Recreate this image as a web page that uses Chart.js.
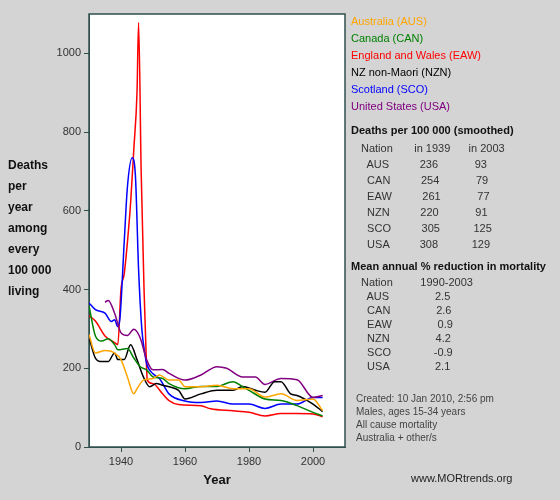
<!DOCTYPE html><html><head><meta charset="utf-8">
<script src="https://cdn.jsdelivr.net/npm/chart.js@4"></script>
<style>
body{margin:0;background:#d4d4d4;font-family:Arial,"Liberation Sans",sans-serif;}
#w{position:relative;width:560px;height:500px;}
.t{position:absolute;font-size:11px;color:#333;white-space:pre;}
.b{font-weight:bold;color:#111;}
</style></head><body><div id="w"><canvas id="c" width="560" height="500"></canvas>
<div class="t b" style="left:8px;top:155px;font-size:12px;line-height:21px">Deaths
per
year
among
every
100 000
living</div>
<div class="t" style="left:351px;top:13px;line-height:17px"><span style="color:#ffa500">Australia (AUS)</span>
<span style="color:#008000">Canada (CAN)</span>
<span style="color:#ff0000">England and Wales (EAW)</span>
<span style="color:#000">NZ non-Maori (NZN)</span>
<span style="color:#0000ff">Scotland (SCO)</span>
<span style="color:#800080">United States (USA)</span></div>
<div class="t b" style="left:351px;top:124px">Deaths per 100 000 (smoothed)</div>
<div class="t" style="left:361px;top:140px;line-height:16px">Nation       in 1939      in 2003
  AUS          236            93
  CAN          254            79
  EAW          261            77
  NZN          220            91
  SCO          305           125
  USA          308           129</div>
<div class="t b" style="left:351px;top:260px">Mean annual % reduction in mortality</div>
<div class="t" style="left:361px;top:275px;line-height:14px">Nation         1990-2003
  AUS               2.5
  CAN               2.6
  EAW               0.9
  NZN               4.2
  SCO              -0.9
  USA               2.1</div>
<div class="t" style="left:356px;top:392px;font-size:10px;line-height:13px;color:#444">Created: 10 Jan 2010, 2:56 pm
Males, ages 15-34 years
All cause mortality
Australia + other/s</div>
<div class="t" style="left:411px;top:472px;font-size:11px;color:#222">www.MORtrends.org</div>
</div>
<script>
const yAUS=[1930,1932,1935,1938,1940,1942,1944,1945,1947,1950,1952,1955,1958,1960,1965,1970,1975,1980,1985,1990,1995,2000,2003];
const vAUS=[286,239,245,239,222,178,135,148,170,174,183,170,170,153,153,157,148,148,127,135,118,122,92];
const yCAN=[1930,1932,1934,1936,1938,1939,1942,1944,1946,1948,1950,1953,1955,1960,1965,1970,1975,1978,1980,1985,1990,1995,2000,2003];
const vCAN=[359,282,269,275,260,247,250,226,204,196,178,174,161,148,154,154,166,153,144,122,118,105,88,79];
const yEAW=[1930,1932,1935,1938,1939,1940,1941,1942,1943,1944,1945,1945.5,1946.3,1947.2,1948,1948.2,1950,1953,1955,1958,1965,1968,1975,1980,1985,1990,1995,2000,2003];
const vEAW=[333,320,282,265,260,400,440,520,620,756,900,1078,700,400,200,170,161,135,118,108,105,97,92,88,79,85,85,84,77];
const yNZN=[1930,1932,1934,1936,1938,1939,1941,1943,1945,1947,1949,1951,1953,1955,1958,1960,1965,1970,1975,1978,1982,1985,1988,1990,1993,1995,2000,2003];
const vNZN=[278,226,217,217,239,222,222,260,222,178,153,161,157,153,144,122,135,144,144,154,144,139,166,166,135,131,109,90];
const ySCO=[1930,1932,1935,1937,1938,1939,1939.7,1941,1942,1943.5,1944.5,1945.5,1946.5,1947.5,1948,1950,1952,1955,1960,1965,1970,1975,1980,1985,1990,1995,2000,2003];
const vSCO=[366,349,340,319,323,306,330,520,660,735,690,450,300,235,212,186,174,135,117,113,117,109,109,98,109,109,126,126];
const yUSA=[1935,1936,1938,1940,1942,1944,1946,1948,1950,1953,1955,1960,1965,1970,1973,1978,1982,1985,1990,1995,2000,2003];
const vUSA=[368,372,340,290,283,299,277,222,196,197,187,170,183,204,200,178,178,159,174,171,126,131];
const yTicks=[0,200,400,600,800,1000];
const xTicks=[1940,1960,1980,2000];
const mk=(xs,vs)=>xs.map((x,i)=>({x,y:vs[i]}));
const ds=(l,c,xs,vs)=>({label:l,data:mk(xs,vs),borderColor:c,borderWidth:1.5,pointRadius:0,cubicInterpolationMode:'monotone',fill:false});
const bg={id:'bg',beforeDraw(ch){const a=ch.chartArea,x=ch.ctx;x.save();x.fillStyle='#fff';x.fillRect(a.left,a.top,a.right-a.left,a.bottom-a.top);x.strokeStyle='#2f4f4f';x.lineWidth=1.5;x.strokeRect(a.left,a.top,a.right-a.left,a.bottom-a.top);x.restore();}};
new Chart(document.getElementById('c'),{type:'line',plugins:[bg],
data:{datasets:[ds('AUS','#ffa500',yAUS,vAUS),ds('CAN','#008000',yCAN,vCAN),ds('NZN','#000',yNZN,vNZN),ds('USA','#800080',yUSA,vUSA),ds('SCO','#0000ff',ySCO,vSCO),ds('EAW','#ff0000',yEAW,vEAW)]},
options:{responsive:false,animation:false,layout:{padding:{top:14,right:215,left:0,bottom:0}},
plugins:{legend:{display:false},tooltip:{enabled:false}},
scales:{x:{type:'linear',min:1930,max:2010,afterFit(s){s.height=53;},
afterBuildTicks(s){s.ticks=xTicks.map(v=>({value:v}));},
ticks:{color:'#333',font:{size:11},maxRotation:0,callback:v=>String(v)},
grid:{drawOnChartArea:false,tickLength:5,color:'#2f4f4f'},border:{color:'#2f4f4f'},
title:{display:true,text:'Year',font:{size:13,weight:'bold'},color:'#111',padding:{top:0,bottom:12}}},
y:{min:0,max:1100,afterFit(s){s.width=89;},
afterBuildTicks(s){s.ticks=yTicks.map(v=>({value:v}));},
ticks:{color:'#333',font:{size:11},callback:v=>String(v)},
grid:{drawOnChartArea:false,tickLength:5,color:'#2f4f4f'},border:{color:'#2f4f4f'}}}}});
</script></body></html>
